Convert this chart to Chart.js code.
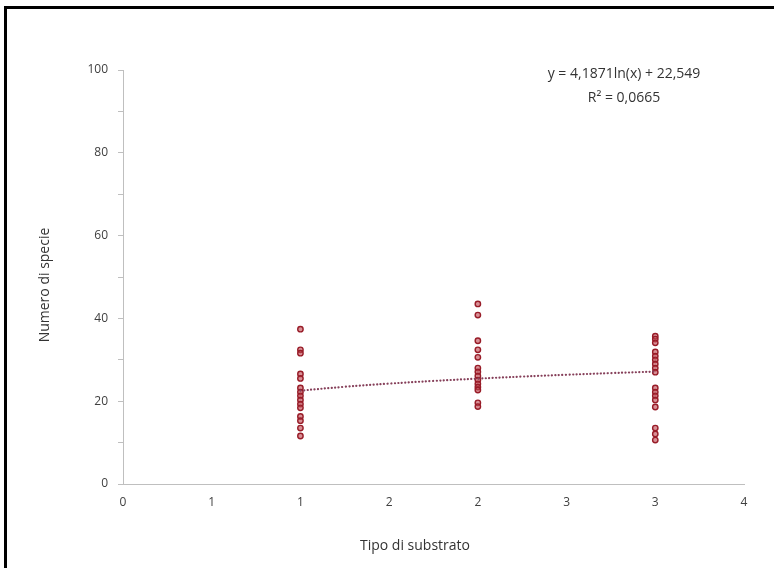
<!DOCTYPE html>
<html>
<head>
<meta charset="utf-8">
<script src="https://cdn.jsdelivr.net/npm/chart.js@4.4.1/dist/chart.umd.min.js"></script>
<style>
  html, body { margin: 0; padding: 0; background: #ffffff; }
  #wrap { position: relative; width: 774px; height: 568px; overflow: hidden; }
  #frame { position: absolute; left: 4px; top: 6px; width: 780px; height: 580px;
           border-top: 3px solid #000; border-left: 3px solid #000; box-sizing: border-box; pointer-events: none; }
  canvas { position: absolute; left: 0; top: 0; }
</style>
</head>
<body>
<div id="wrap">
  <canvas id="c" width="774" height="568"></canvas>
  <div id="frame"></div>
</div>
<script>
// ---- Data ----
const substrateTypes = [1, 2, 3];
const speciesType1 = [37.4, 32.4, 31.6, 26.6, 25.5, 23.2, 22.2, 21.3, 20.3, 19.3, 18.4, 16.3, 15.3, 13.5, 11.6];
const speciesType2 = [43.5, 40.8, 34.6, 32.4, 30.6, 28.0, 27.1, 26.1, 25.1, 24.2, 23.4, 22.7, 19.6, 18.7];
const speciesType3 = [35.7, 35.0, 34.1, 31.9, 30.9, 30.0, 29.0, 28.0, 27.0, 23.2, 22.2, 21.3, 20.3, 18.6, 13.5, 12.1, 10.6];
const xTickLabels = ['0', '1', '1', '2', '2', '3', '3', '4'];
const yTickLabels = ['0', '20', '40', '60', '80', '100'];
// Logarithmic trendline shown on the chart: y = a*ln(x) + b
const trendA = 4.1871;
const trendB = 22.549;
const trendXs = [1, 1.25, 1.5, 1.75, 2, 2.25, 2.5, 2.75, 3];
const equationLines = ['y = 4,1871ln(x) + 22,549', 'R\u00B2 = 0,0665'];
const xTitle = 'Tipo di substrato';
const yTitle = 'Numero di specie';

// ---- Build datasets ----
const groups = [speciesType1, speciesType2, speciesType3];
const points = [];
groups.forEach((vals, gi) => vals.forEach(v => points.push({ x: substrateTypes[gi], y: v })));
const trendPoints = trendXs.map(x => ({ x: x, y: trendA * Math.log(x) + trendB }));

const FONT = "'Open Sans', 'DejaVu Sans', sans-serif";

const textPlugin = {
  id: 'texts',
  afterDraw(chart) {
    const ctx = chart.ctx;
    ctx.save();
    ctx.fillStyle = '#333333';
    ctx.textAlign = 'center';
    ctx.textBaseline = 'middle';
    ctx.font = '14px ' + FONT;
    ctx.fillText(equationLines[0], 624, 74);
    ctx.fillText(equationLines[1], 624, 98);
    // axis titles
    ctx.fillText(xTitle, 415, 546);
    ctx.translate(45, 285);
    ctx.rotate(-Math.PI / 2);
    ctx.fillText(yTitle, 0, 0);
    ctx.restore();
  }
};

new Chart(document.getElementById('c'), {
  type: 'scatter',
  data: {
    datasets: [
      {
        label: 'Numero di specie',
        data: points,
        pointRadius: 2.7,
        pointHoverRadius: 2.7,
        pointBorderWidth: 1.4,
        borderColor: '#981C28',
        backgroundColor: 'rgba(190,70,80,0.6)',
        order: 1
      },
      {
        label: 'Tendenza',
        type: 'line',
        data: trendPoints,
        showLine: true,
        pointRadius: 0,
        borderColor: '#86405A',
        borderWidth: 2.2,
        borderDash: [0.1, 3.4],
        borderCapStyle: 'round',
        tension: 0.4,
        fill: false,
        order: 0
      }
    ]
  },
  options: {
    responsive: false,
    animation: false,
    events: [],
    layout: { padding: { top: 70, right: 30, left: 0, bottom: 0 } },
    plugins: {
      legend: { display: false },
      tooltip: { enabled: false }
    },
    scales: {
      x: {
        type: 'linear',
        min: 0,
        max: 3.5,
        afterFit(scale) { scale.height = 84; },
        ticks: {
          stepSize: 0.5,
          autoSkip: false,
          maxRotation: 0,
          padding: 11,
          color: '#404040',
          font: { family: FONT, size: 12 },
          callback: (v, i) => xTickLabels[i]
        },
        grid: { display: true, drawOnChartArea: false, drawTicks: false, color: '#BFBFBF' },
        border: { display: true, color: '#BFBFBF', width: 1 },
        title: { display: false }
      },
      y: {
        type: 'linear',
        min: 0,
        max: 100,
        afterFit(scale) { scale.width = 123; },
        ticks: {
          stepSize: 10,
          autoSkip: false,
          padding: 10,
          color: '#404040',
          font: { family: FONT, size: 12 },
          callback: (v, i) => (i % 2 === 0 ? yTickLabels[i / 2] : '')
        },
        grid: { display: true, drawOnChartArea: false, drawTicks: true, tickLength: 5, color: '#BFBFBF' },
        border: { display: true, color: '#BFBFBF', width: 1 },
        title: { display: false }
      }
    }
  },
  plugins: [textPlugin]
});
</script>
</body>
</html>
